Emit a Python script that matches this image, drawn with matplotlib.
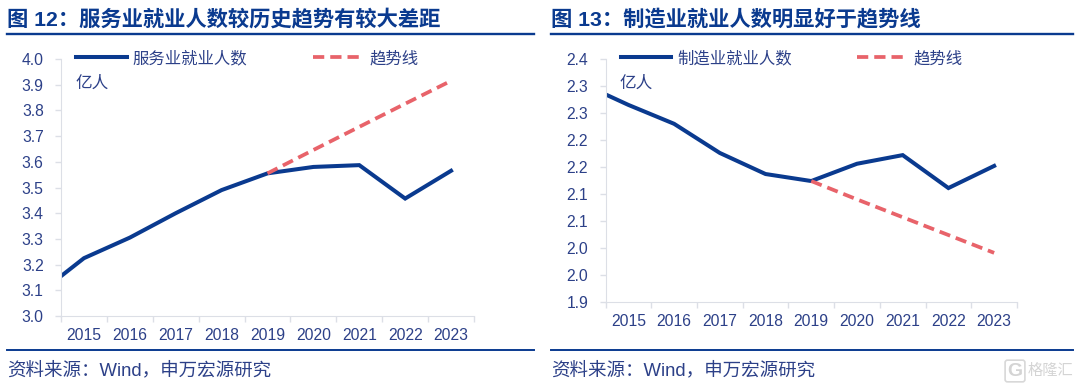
# -*- coding: utf-8 -*-
import matplotlib
matplotlib.use('Agg')
import matplotlib.pyplot as plt
import numpy as np
from matplotlib.lines import Line2D

plt.rcParams['font.family'] = ['Liberation Sans', 'Noto Sans CJK SC']

W = 1080
H = 385

# 2014 lies outside the axis, the line is cut at the left edge as in the picture
years = [2014, 2015, 2016, 2017, 2018, 2019, 2020, 2021, 2022, 2023]
year_labels = ['2015', '2016', '2017', '2018', '2019', '2020', '2021', '2022', '2023']
trend_years = [2019, 2020, 2021, 2022, 2023]

service = [3.085, 3.225, 3.305, 3.400, 3.490, 3.555, 3.580, 3.587, 3.457, 3.565]
service_trend = [3.555, 3.646, 3.736, 3.826, 3.915]
service_ticks = [3.0, 3.1, 3.2, 3.3, 3.4, 3.5, 3.6, 3.7, 3.8, 3.9, 4.0]
service_ticklabels = ['3.0', '3.1', '3.2', '3.3', '3.4', '3.5', '3.6', '3.7', '3.8', '3.9', '4.0']

manuf = [2.304, 2.265, 2.230, 2.176, 2.137, 2.124, 2.156, 2.172, 2.111, 2.152]
manuf_trend = [2.124, 2.090, 2.057, 2.024, 1.991]
manuf_ticks = [1.90, 1.95, 2.00, 2.05, 2.10, 2.15, 2.20, 2.25, 2.30, 2.35]
manuf_ticklabels = ['1.9', '2.0', '2.0', '2.1', '2.1', '2.2', '2.2', '2.3', '2.3', '2.4']

BLUE = '#0a3a8f'
RED = '#e8636a'
TXT = '#2c4088'
GREY = '#dcdfe6'

fig = plt.figure(figsize=(W/100, H/100), dpi=100)


def hline(x0, x1, y, lw):
    fig.add_artist(Line2D([x0/W, x1/W], [1-y/H, 1-y/H], color=BLUE, lw=lw))


def panel(left, right, top, bottom, values, trend, ticks, ticklabels, name, title, title_x, rule_x1):
    ax = fig.add_axes([left/W, 1-bottom/H, (right-left)/W, (bottom-top)/H])
    ax.plot(years, values, color=BLUE, lw=2.9, label=name, solid_joinstyle='miter')
    ax.plot(trend_years, trend, color=RED, lw=2.7, dashes=(3.0, 1.6), label='趋势线')
    ax.set_xlim(2014.5, 2023.5)
    ax.set_ylim(ticks[0], ticks[-1])
    ax.set_yticks(ticks)
    ax.set_yticklabels(ticklabels)
    ax.set_xticks(np.arange(2014.5, 2024.5, 1))
    ax.set_xticklabels([])
    ax.set_xticks(np.arange(2015, 2024, 1), minor=True)
    ax.set_xticklabels(year_labels, minor=True)
    ax.tick_params(axis='x', which='major', length=4, color=GREY, width=1)
    ax.tick_params(axis='x', which='minor', length=0, pad=9, labelsize=11.3, labelcolor=TXT)
    ax.tick_params(axis='y', length=4, color=GREY, width=1, pad=8.5, labelsize=11.3, labelcolor=TXT)
    ax.spines['top'].set_visible(False)
    ax.spines['right'].set_visible(False)
    ax.spines['left'].set_color(GREY)
    ax.spines['bottom'].set_color(GREY)
    ax.patch.set_alpha(0)

    ax.legend(loc='lower left', bbox_to_anchor=(15/(right-left), (bottom-top-7)/(bottom-top)),
              ncol=2, frameon=False, fontsize=11.8, handlelength=3.1, handletextpad=0.35,
              columnspacing=4.0, borderpad=0, borderaxespad=0, labelcolor=TXT)
    fig.text((left+14)/W, 1-83/H, '亿人', fontsize=12, color=TXT, va='center')

    fig.text(title_x/W, 1-20/H, title, fontsize=15.35, fontweight='bold', color=BLUE, va='center')
    hline(title_x, rule_x1, 33.5, 1.7)
    hline(title_x, rule_x1, 350, 1.4)
    fig.text(title_x/W, 1-370/H, '资料来源：Wind，申万宏源研究', fontsize=13.35, color=TXT, va='center')
    return ax


panel(61, 474, 59, 316, service, service_trend, service_ticks, service_ticklabels,
      '服务业就业人数', '图 12：服务业就业人数较历史趋势有较大差距', 7, 534)
panel(605.5, 1017, 59, 302, manuf, manuf_trend, manuf_ticks, manuf_ticklabels,
      '制造业就业人数', '图 13：制造业就业人数明显好于趋势线', 551, 1073)

# watermark
fig.text(1015/W, 1-371/H, 'G', fontsize=14, fontweight='bold', color='#d4d4d4', va='center', ha='center',
         bbox=dict(boxstyle='round,pad=0.12', fill=False, edgecolor='#d8d8d8', lw=1.2))
fig.text(1028/W, 1-371/H, '格隆汇', fontsize=11, color='#d4d4d4', va='center')

fig.savefig('out.png', dpi=100)
